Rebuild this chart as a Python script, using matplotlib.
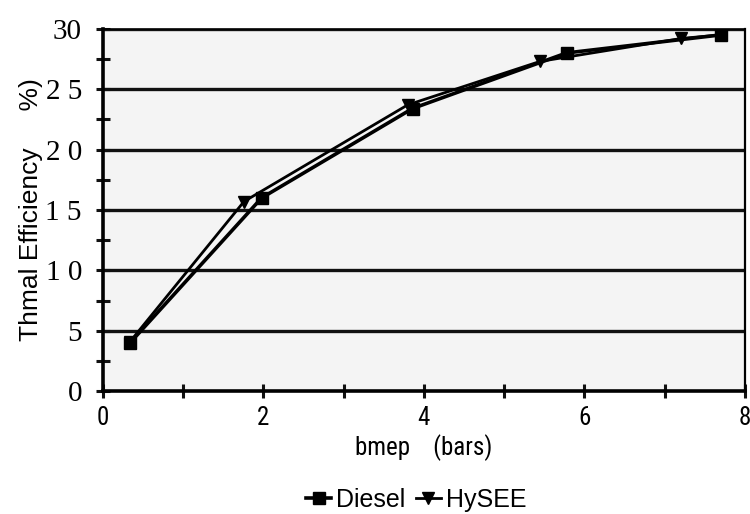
import matplotlib
matplotlib.use('Agg')
import matplotlib.pyplot as plt
from matplotlib.ticker import MultipleLocator

# data
bmep_diesel = [0.34, 1.98, 3.86, 5.78, 7.71]
eff_diesel = [4.0, 16.0, 23.4, 28.0, 29.5]
bmep_hysee = [0.34, 1.76, 3.80, 5.45, 7.21, 7.71]
eff_hysee = [4.1, 15.7, 23.7, 27.3, 29.2, 29.5]

yticks = [0, 5, 10, 15, 20, 25, 30]
ytick_labels = ['0', '5', '1 0', '1 5', '2 0', '2 5', '30']
xticks = [0, 2, 4, 6, 8]

plt.rcParams['font.family'] = 'Liberation Sans'

fig = plt.figure(figsize=(7.5, 5.14), dpi=100)
ax = fig.add_axes([0.137, 0.239, 0.856, 0.705])
ax.set_facecolor('#f4f4f4')

ax.plot(bmep_diesel, eff_diesel, color='black', linewidth=2.6, marker='s',
        markersize=9, label='Diesel', zorder=3)
ax.plot(bmep_hysee, eff_hysee, color='black', linewidth=2.0, marker='v',
        markersize=9, label='HySEE', zorder=3)

ax.set_xlim(0, 8)
ax.set_ylim(0, 30)
for y in yticks[1:]:
    ax.axhline(y, color='#111111', linewidth=2.4, zorder=1)

ax.set_yticks(yticks)
ax.set_yticklabels(ytick_labels)
ax.yaxis.set_minor_locator(MultipleLocator(2.5))
ax.set_xticks(xticks)
ax.set_xticklabels([str(v) for v in xticks])
ax.xaxis.set_minor_locator(MultipleLocator(1))

ax.tick_params(axis='both', which='both', direction='inout', length=10, width=2.2, color='#111111')
ax.tick_params(axis='y', pad=10)
ax.tick_params(axis='x', pad=6)

for t in ax.get_yticklabels():
    t.set_fontfamily('Liberation Serif')
    t.set_fontsize(21)
for t in ax.get_xticklabels():
    t.set_fontfamily('Roboto Condensed')
    t.set_fontsize(18)

ax.spines['left'].set_linewidth(2.6)
ax.spines['bottom'].set_linewidth(2.6)
ax.spines['top'].set_linewidth(1.2)
ax.spines['right'].set_linewidth(1.6)

ax.set_ylabel('Thmal Efficiency     %)', fontsize=19, labelpad=2)
ax.set_xlabel('bmep    (bars)', fontfamily='Roboto Condensed', fontsize=18, labelpad=3)

fig.legend(loc='lower center', bbox_to_anchor=(0.555, -0.04), ncol=2, frameon=False,
           prop={'family': 'Liberation Sans', 'size': 18},
           handlelength=1.0, handletextpad=0.2, columnspacing=0.4)

plt.savefig('out.png', dpi=100)
